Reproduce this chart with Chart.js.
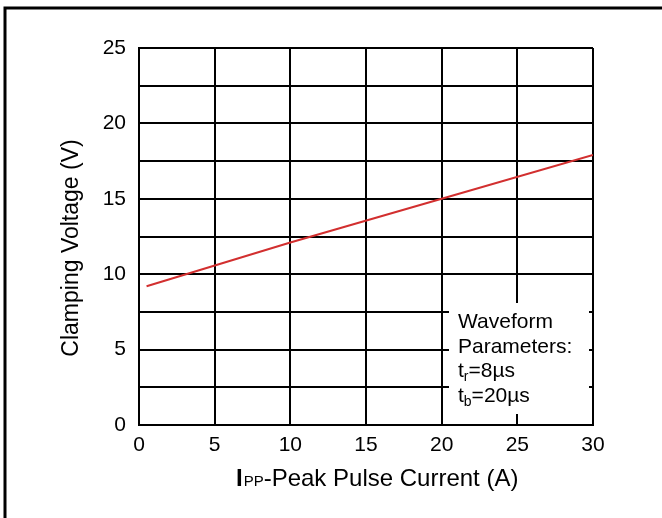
<!DOCTYPE html>
<html lang="en">
  <head>
    <meta charset="UTF-8" />
    <title>Clamping Voltage vs Peak Pulse Current</title>
    <script src="https://cdn.jsdelivr.net/npm/chart.js"></script>
    <style>
      html, body { margin: 0; padding: 0; background: #fff; }
      #wrap { width: 662px; height: 518px; position: relative; }
    </style>
  </head>
  <body>
    <div id="wrap"><canvas id="clampChart" width="662" height="518"></canvas></div>

    <script>
      // data
      const currentA = [0.5, 10, 20, 30];
      const clampV = [9.2, 12.1, 15.0, 17.9];
      const xTicks = [0, 5, 10, 15, 20, 25, 30];
      const yTicks = [0, 5, 10, 15, 20, 25];
      const noteLines = ["Waveform", "Parameters:", ["t", "r", "=8\u00b5s"], ["t", "b", "=20\u00b5s"]];

      const FONT = "Arial, 'Liberation Sans', sans-serif";

      // titles, note box and outer frame
      const extras = {
        id: "extras",
        afterDraw(chart) {
          const ctx = chart.ctx;
          ctx.save();

          // white note box over the grid
          ctx.fillStyle = "#fff";
          ctx.fillRect(449, 303, 140, 111);
          ctx.fillStyle = "#000";
          ctx.textBaseline = "alphabetic";
          ctx.textAlign = "left";
          let y = 328;
          noteLines.forEach(function (ln) {
            let x = 458;
            ctx.font = "21px " + FONT;
            if (typeof ln === "string") {
              ctx.fillText(ln, x, y);
            } else {
              ctx.fillText(ln[0], x, y);
              x += ctx.measureText(ln[0]).width;
              ctx.font = "14px " + FONT;
              ctx.fillText(ln[1], x, y + 4);
              x += ctx.measureText(ln[1]).width;
              ctx.font = "21px " + FONT;
              ctx.fillText(ln[2], x, y);
            }
            y += 24.5;
          });

          // x axis title: bold I, subscript PP
          let x = 236;
          const by = 486;
          ctx.font = "bold 24px " + FONT;
          ctx.fillText("I", x, by);
          x += ctx.measureText("I").width + 1;
          ctx.font = "15px " + FONT;
          ctx.fillText("PP", x, by);
          x += ctx.measureText("PP").width;
          ctx.font = "24px " + FONT;
          ctx.fillText("-Peak Pulse Current (A)", x, by);

          // y axis title
          ctx.translate(78, 248);
          ctx.rotate(-Math.PI / 2);
          ctx.textAlign = "center";
          ctx.font = "23px " + FONT;
          ctx.fillText("Clamping Voltage (V)", 0, 0);
          ctx.restore();

          // outer frame (left and top edges only are inside the picture)
          ctx.save();
          ctx.strokeStyle = "#000";
          ctx.lineWidth = 3;
          ctx.beginPath();
          ctx.moveTo(5, 530);
          ctx.lineTo(5, 8);
          ctx.lineTo(680, 8);
          ctx.stroke();
          ctx.restore();
        },
      };

      new Chart(document.getElementById("clampChart"), {
        type: "line",
        data: {
          datasets: [
            {
              data: currentA.map((v, i) => ({ x: v, y: clampV[i] })),
              borderColor: "#d22f2f",
              borderWidth: 2,
              pointRadius: 0,
              fill: false,
              tension: 0,
            },
          ],
        },
        options: {
          responsive: false,
          animation: false,
          layout: { padding: { left: 0, top: 48, right: 69, bottom: 0 } },
          plugins: { legend: { display: false }, tooltip: { enabled: false } },
          scales: {
            x: {
              type: "linear",
              min: xTicks[0],
              max: xTicks[xTicks.length - 1],
              afterBuildTicks: (s) => { s.ticks = xTicks.map((v) => ({ value: v })); },
              afterFit: (s) => { s.height = 93; },
              grid: { color: "#000", lineWidth: 2, drawTicks: false },
              border: { color: "#000", width: 2 },
              ticks: { color: "#000", padding: 8, font: { family: FONT, size: 21 } },
            },
            y: {
              type: "linear",
              min: yTicks[0],
              max: yTicks[yTicks.length - 1],
              ticks: {
                stepSize: 2.5,
                color: "#000",
                padding: 13,
                font: { family: FONT, size: 21 },
                callback: (v) => (yTicks.includes(v) ? v : ""),
              },
              afterFit: (s) => { s.width = 139; },
              grid: { color: "#000", lineWidth: 2, drawTicks: false },
              border: { color: "#000", width: 2 },
            },
          },
        },
        plugins: [extras],
      });
    </script>
  </body>
</html>
